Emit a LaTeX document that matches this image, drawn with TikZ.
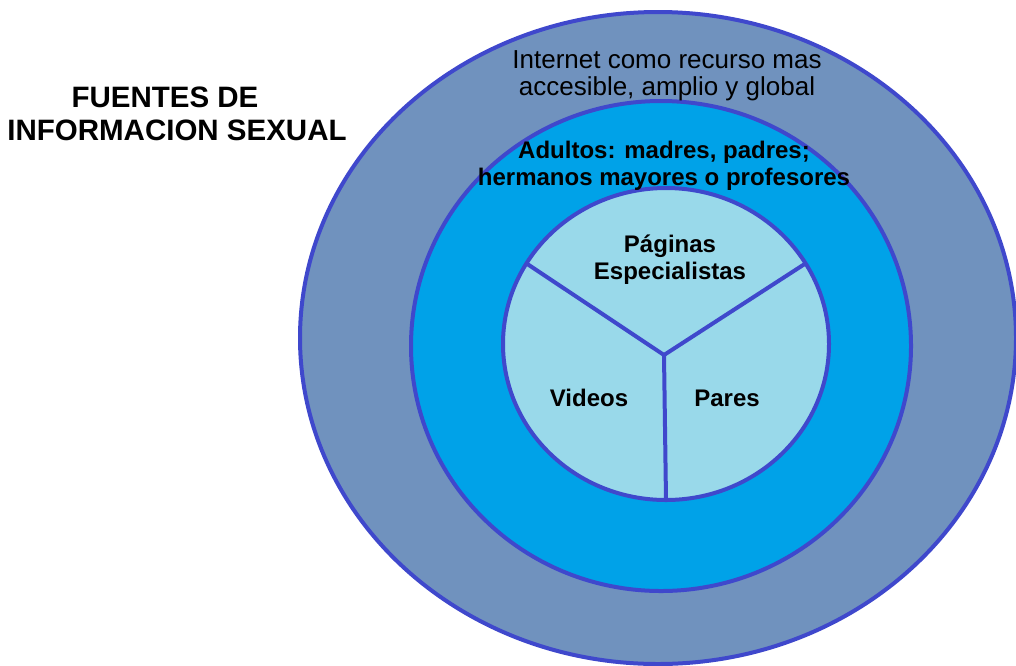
\documentclass[tikz,border=0pt]{standalone}
\usepackage{fontspec}
\setmainfont{Liberation Sans}
\usetikzlibrary{shapes.geometric}
\definecolor{outerfill}{HTML}{7092BE}
\definecolor{midfill}{HTML}{00A2E8}
\definecolor{innerfill}{HTML}{99D9EA}
\definecolor{rim}{HTML}{3F48CC}
\tikzset{
  ring/.style={ellipse, draw=rim, line width=4pt, inner sep=0pt, outer sep=0pt},
  spoke/.style={draw=rim, line width=4pt},
  lbl/.style={align=center, inner sep=0pt, text=black},
  titlefont/.style={font=\fontsize{29.5}{33}\selectfont\bfseries},
  inlbl/.style={lbl, font=\fontsize{24}{27}\selectfont\bfseries},
}
\begin{document}
\begin{tikzpicture}[x=1pt,y=-1pt]
\useasboundingbox (0,0) rectangle (1016,665);
\node[ring, fill=outerfill, minimum width=716pt, minimum height=652pt] (outer) at (658,338) {};
\node[ring, fill=midfill, minimum width=500pt, minimum height=490pt] (middle) at (661,346) {};
\node[ring, fill=innerfill, minimum width=326pt, minimum height=312pt] (inner) at (666,344) {};
\coordinate (hub) at (664,355);
\draw[spoke] (hub) -- (inner.150);
\draw[spoke] (hub) -- (inner.30);
\draw[spoke] (hub) -- (inner.south);
\node[lbl, titlefont] (t1) at (165,97) {FUENTES DE};
\node[lbl, titlefont] (t2) at (177,130) {INFORMACION SEXUAL};
\node[lbl, font=\fontsize{26}{27}\selectfont] (internet) at (667,76) {Internet como recurso mas\\accesible, amplio y global};
\node[inlbl] (adultos) at (664,166) {Adultos: madres, padres;\\hermanos mayores o profesores};
\node[inlbl] (paginas) at (670,260) {Páginas\\Especialistas};
\node[inlbl] (videos) at (589,398) {Videos};
\node[inlbl] (pares) at (727,398) {Pares};
\end{tikzpicture}
\end{document}
